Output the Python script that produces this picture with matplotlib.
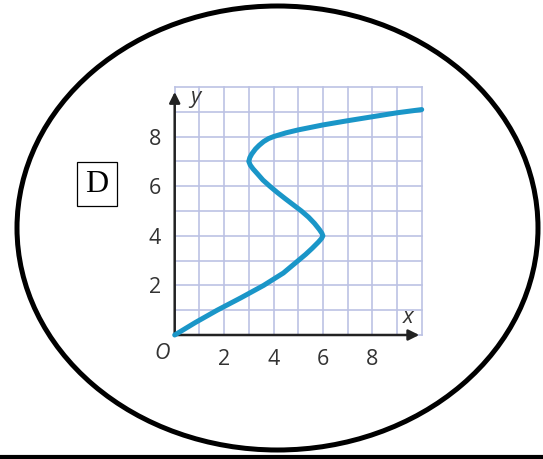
import matplotlib
matplotlib.use("Agg")
import matplotlib.pyplot as plt
from matplotlib.patches import Ellipse

# curve (x as it winds upward in y)
curve_x = [0, 0.83, 1.72, 2.68, 3.6, 4.4, 5.0, 5.3, 5.57, 5.82, 5.95, 6.0, 5.96, 5.86, 5.66,
           5.42, 5.13, 4.8, 4.47, 4.15, 3.85, 3.57, 3.35, 3.17, 3.06, 3.0, 3.04, 3.12, 3.27,
           3.42, 3.6, 3.8, 4.0, 4.5, 5.0, 6.0, 7.0, 8.0, 9.0, 10.0]
curve_y = [0, 0.5, 1.0, 1.5, 2.0, 2.5, 3.0, 3.25, 3.5, 3.75, 3.9, 4.0, 4.1, 4.25, 4.5,
           4.75, 5.0, 5.25, 5.5, 5.75, 6.0, 6.25, 6.5, 6.7, 6.85, 7.0, 7.15, 7.3, 7.5,
           7.65, 7.8, 7.92, 8.0, 8.15, 8.27, 8.47, 8.64, 8.8, 8.96, 9.09]
tick_vals = [2, 4, 6, 8]
tick_labels = ['2', '4', '6', '8']
choice_label = 'D'

W, H = 543, 459
fig = plt.figure(figsize=(W / 100, H / 100), dpi=100)
fig.patch.set_facecolor('white')

# background layer in pixel coords: ellipse, bottom rule, choice box
bg = fig.add_axes([0, 0, 1, 1])
bg.set_xlim(0, W)
bg.set_ylim(H, 0)
bg.axis('off')
bg.add_patch(Ellipse((277.5, 228), 521, 444, fill=False, edgecolor='black', lw=3.6))
bg.plot([0, W], [456.5, 456.5], color='black', lw=3.0, solid_capstyle='butt')
bg.text(97, 184, choice_label, family='Liberation Serif', fontsize=23, ha='center', va='center',
        bbox=dict(boxstyle='square,pad=0.25', fc='white', ec='black', lw=0.9))

# the graph
ax = fig.add_axes([174.7 / W, (H - 335) / H, 247 / W, 248 / H])
ax.set_facecolor('none')
ax.set_xlim(0, 10)
ax.set_ylim(0, 10)
for s in ax.spines.values():
    s.set_visible(False)
ax.set_xticks(tick_vals)
ax.set_xticklabels(tick_labels)
ax.set_yticks(tick_vals)
ax.set_yticklabels(tick_labels)
ax.tick_params(which='both', length=0)
ax.tick_params(axis='x', pad=10)
ax.tick_params(axis='y', pad=10)
for lab in ax.get_xticklabels() + ax.get_yticklabels():
    lab.set_family('Open Sans')
    lab.set_fontsize(15.5)
    lab.set_color('#333333')

# square grid, one line per unit
for i in range(11):
    ax.axvline(i, color='#bcc2e4', lw=1.2, clip_on=False, zorder=1)
    ax.axhline(i, color='#bcc2e4', lw=1.2, clip_on=False, zorder=1)

ax.plot(curve_x, curve_y, color='#1a96c8', lw=3.6, solid_capstyle='round',
        solid_joinstyle='round', clip_on=False, zorder=5)

arrow = dict(arrowstyle='-|>', color='#222222', lw=1.8, mutation_scale=16, shrinkA=0, shrinkB=0)
ax.annotate('', xy=(9.9, 0), xytext=(0, 0), arrowprops=arrow, annotation_clip=False, zorder=4)
ax.annotate('', xy=(0, 9.8), xytext=(0, 0), arrowprops=arrow, annotation_clip=False, zorder=4)

ax.text(-0.51, -0.73, 'O', family='Open Sans', style='italic', fontsize=15.5, color='#333333',
        ha='center', va='center')
ax.text(0.82, 9.56, 'y', family='Open Sans', style='italic', fontsize=16, color='#333333',
        ha='center', va='center')
ax.text(9.45, 0.69, 'x', family='Open Sans', style='italic', fontsize=16, color='#333333',
        ha='center', va='center')

fig.savefig('out.png', dpi=100)
